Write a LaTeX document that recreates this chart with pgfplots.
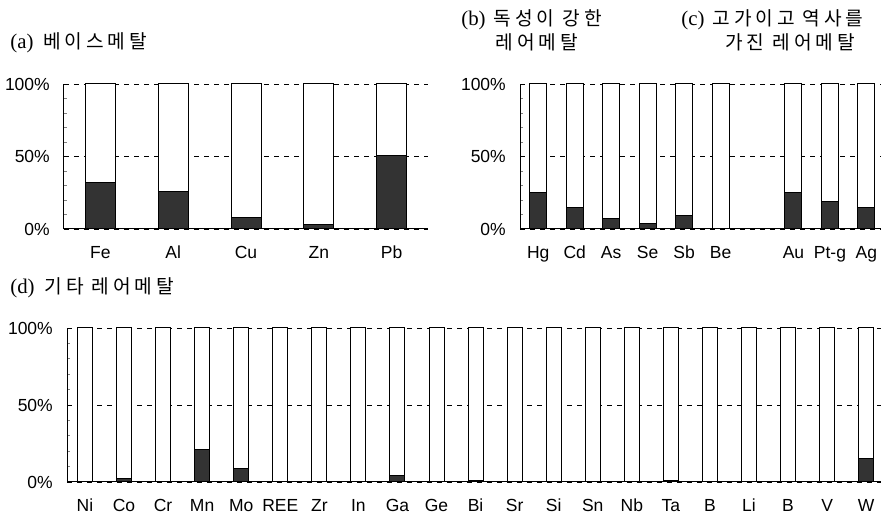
\documentclass[border=0pt]{standalone}
\usepackage{pgfplots}
\pgfplotsset{compat=1.18}
\usepackage{fontspec}
\setmainfont{Liberation Sans}
\newfontfamily\kr[LetterSpace=20]{Noto Sans CJK KR}
\newfontfamily\sr{Liberation Serif}
\definecolor{darkfill}{gray}{0.2}
\pgfplotsset{
  common/.style={
    scale only axis,
    anchor=south west,
    ybar stacked,
    ymin=0, ymax=1,
    ytick={0,0.5,1},
    yticklabels={0\%,50\%,100\%},
    minor ytick={0.1,0.2,0.3,0.4,0.6,0.7,0.8,0.9},
    axis x line*=bottom, axis y line*=left,
    tick align=inside,
    major tick length=0pt, minor tick length=2pt,
    xtick style={draw=none},
    ytick style={line width=0.5pt},
    ymajorgrids,
    grid style={dashed, black, line width=0.5pt},
    axis line style={line width=0.6pt},
    tick label style={font=\fontsize{10.5}{12}\selectfont},
    yticklabel style={xshift=-5pt},
    xticklabel style={anchor=base, yshift=-17.7pt},
    /pgf/number format/assume math mode=true,
    every axis plot/.append style={draw=black, line width=0.6pt},
  },
}
\begin{document}
\begin{tikzpicture}
\useasboundingbox (0,0) rectangle (529.2pt,309.6pt);
% (a)
\begin{axis}[common, at={(38.4pt,172.2pt)}, width=218.4pt, height=87pt,
  xmin=-0.5, xmax=4.5, bar width=18pt,
  xtick={0,1,2,3,4}, xticklabels={Fe,Al,Cu,Zn,Pb}]
\addplot[fill=darkfill] coordinates {(0,0.32) (1,0.26) (2,0.08) (3,0.03) (4,0.51)};
\addplot[fill=white] coordinates {(0,0.68) (1,0.74) (2,0.92) (3,0.97) (4,0.49)};
\end{axis}
% (b),(c)
\begin{axis}[common, at={(312pt,172.2pt)}, width=216.6pt, height=87pt,
  xmin=-0.5, xmax=9.4, bar width=10.2pt,
  xtick={0,1,2,3,4,5,7,8,9}, xticklabels={Hg,Cd,As,Se,Sb,Be,Au,Pt-g,Ag}]
\addplot[fill=darkfill] coordinates {(0,0.25) (1,0.15) (2,0.07) (3,0.04) (4,0.09) (5,0) (7,0.25) (8,0.19) (9,0.15)};
\addplot[fill=white] coordinates {(0,0.75) (1,0.85) (2,0.93) (3,0.96) (4,0.91) (5,1) (7,0.75) (8,0.81) (9,0.85)};
\end{axis}
% (d)
\begin{axis}[common, at={(40.2pt,20.4pt)}, width=488.4pt, height=92.4pt,
  xmin=-0.46, xmax=20.38, bar width=9pt,
  xtick={0,1,2,3,4,5,6,7,8,9,10,11,12,13,14,15,16,17,18,19,20},
  xticklabels={Ni,Co,Cr,Mn,Mo,REE,Zr,In,Ga,Ge,Bi,Sr,Si,Sn,Nb,Ta,B,Li,B,V,W}]
\addplot[fill=darkfill] coordinates {(0,0) (1,0.02) (2,0) (3,0.21) (4,0.09) (5,0) (6,0) (7,0) (8,0.04) (9,0) (10,0.01) (11,0) (12,0) (13,0) (14,0) (15,0.01) (16,0) (17,0) (18,0) (19,0) (20,0.15)};
\addplot[fill=white] coordinates {(0,1) (1,0.98) (2,1) (3,0.79) (4,0.91) (5,1) (6,1) (7,1) (8,0.96) (9,1) (10,0.99) (11,1) (12,1) (13,1) (14,1) (15,0.99) (16,1) (17,1) (18,1) (19,1) (20,0.85)};
\end{axis}
% titles
\def\tf{\fontsize{11.5}{13}\selectfont}
\def\sf{\fontsize{12.5}{13}\selectfont}
\node[anchor=west, inner sep=0pt] at (6pt,283.8pt) {\sf\sr (a)\hspace{6pt}\tf\kr 베이스메탈};
\node[anchor=west, inner sep=0pt] at (276.6pt,297.6pt) {\sf\sr (b)\hspace{5pt}\tf\kr 독성이 강한};
\node[inner sep=0pt] at (322.2pt,284.4pt) {\tf\kr 레어메탈};
\node[anchor=west, inner sep=0pt] at (408.6pt,297.6pt) {\sf\sr (c)\hspace{5pt}\tf\kr 고가이고 역사를};
\node[inner sep=0pt] at (474pt,284.4pt) {\tf\kr 가진 레어메탈};
\node[anchor=west, inner sep=0pt] at (6pt,136.8pt) {\sf\sr (d)\hspace{6pt}\tf\kr 기타 레어메탈};
\end{tikzpicture}
\end{document}
